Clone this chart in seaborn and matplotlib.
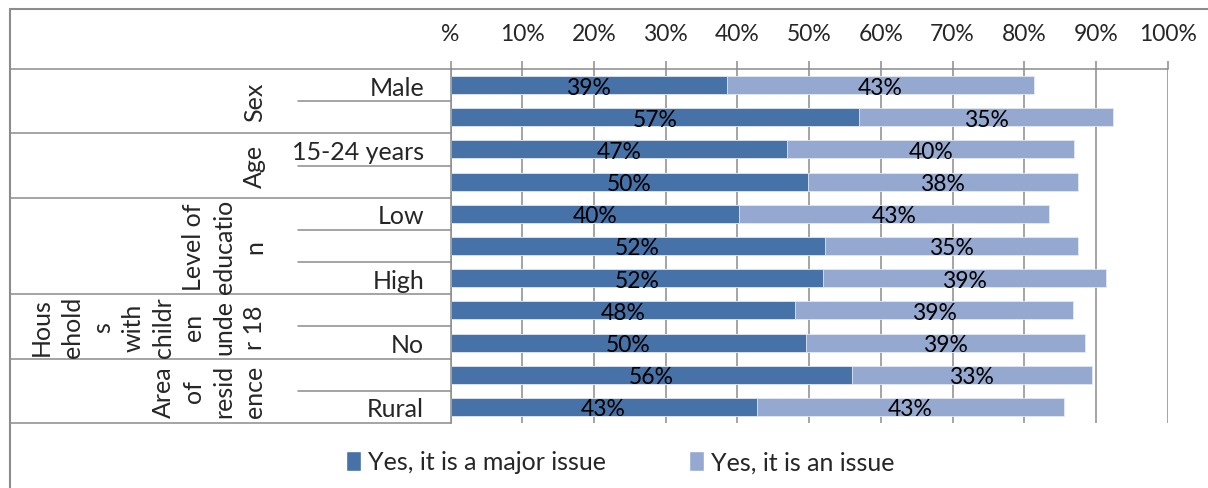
import matplotlib
matplotlib.use("Agg")
import matplotlib.pyplot as plt
import matplotlib.transforms as mtransforms
from matplotlib.lines import Line2D
from matplotlib.patches import Patch
import seaborn as sns
import pandas as pd

# ---- data -------------------------------------------------------------
row_labels = ["Male", "", "15-24 years", "", "Low", "", "High", "", "No", "", "Rural"]
major_issue = [38.6, 57.0, 46.9, 49.8, 40.2, 52.2, 52.0, 48.1, 49.6, 56.0, 42.7]
an_issue = [42.7, 35.4, 40.1, 37.7, 43.2, 35.3, 39.4, 38.7, 38.9, 33.4, 42.9]
group_labels = [
    "Sex",
    "Age",
    "Level of\neducatio\nn",
    "Hous\nehold\ns\nwith\nchildr\nen\nunde\nr 18",
    "Area\nof\nresid\nence",
]
group_sizes = [2, 2, 3, 2, 2]
x_ticks = [0, 10, 20, 30, 40, 50, 60, 70, 80, 90, 100]
x_tick_labels = ["%", "10%", "20%", "30%", "40%", "50%", "60%", "70%", "80%", "90%", "100%"]
series_names = ["Yes, it is a major issue", "Yes, it is an issue"]

# ---- style ------------------------------------------------------------
sns.set_style("white")
plt.rcParams["font.family"] = ["Lato", "DejaVu Sans"]

DARK = "#4672A7"
LIGHT = "#95A9D0"
GRID = "#8C8C8C"
FS_TEXT = 18
FS_NUM = 16.5

W, H = 1208, 489


def fx(px):
    return px / W


def fy(py):
    return 1 - py / H


df = pd.DataFrame({
    "row": list(range(len(row_labels))),
    "major": major_issue,
    "issue": an_issue,
})
df["total"] = df["major"] + df["issue"]

fig = plt.figure(figsize=(W / 100, H / 100), dpi=100)
ax = fig.add_axes([fx(450.5), fy(424), (1167.7 - 450.5) / W, (424 - 70) / H])

# stacked bars: full length in the light colour, major part on top
sns.barplot(data=df, x="total", y="row", orient="h", color=LIGHT, width=0.56,
            saturation=1, edgecolor="#E4E9F3", linewidth=0.6, ax=ax)
sns.barplot(data=df, x="major", y="row", orient="h", color=DARK, width=0.56,
            saturation=1, edgecolor="#E4E9F3", linewidth=0.6, ax=ax)

# value labels centred on each segment
for i, (m, s) in enumerate(zip(major_issue, an_issue)):
    ax.text(m / 2, i + 0.06, f"{m:.0f}%", ha="center", va="center",
            fontsize=FS_NUM, color="black")
    ax.text(m + s / 2, i + 0.06, f"{s:.0f}%", ha="center", va="center",
            fontsize=FS_NUM, color="black")

ax.set_xlim(0, 100)
ax.set_ylim(len(row_labels) - 0.5, -0.5)
ax.set_xlabel("")
ax.set_ylabel("")

ax.xaxis.tick_top()
ax.set_xticks(x_ticks)
ax.set_xticklabels(x_tick_labels)
ax.tick_params(axis="x", direction="out", length=5.8, width=1.1, color=GRID,
               pad=12, labelsize=FS_NUM, top=True, bottom=False)
ax.set_yticks(range(len(row_labels)))
ax.set_yticklabels(row_labels)
ax.tick_params(axis="y", length=0, pad=19, labelsize=FS_TEXT)

ax.grid(axis="x", color=GRID, linewidth=1.1)
ax.grid(axis="y", visible=False)
ax.set_axisbelow(True)
for side in ["right", "bottom"]:
    ax.spines[side].set_visible(False)
for side in ["top", "left"]:
    ax.spines[side].set_visible(True)
    ax.spines[side].set_color(GRID)
    ax.spines[side].set_linewidth(1.1)

# category table on the left
trans = mtransforms.blended_transform_factory(fig.transFigure, ax.transData)
start = 0
for label, size in zip(group_labels, group_sizes):
    top = start - 0.5
    ax.add_line(Line2D([fx(10), fx(450.5)], [top, top], transform=trans,
                       color=GRID, lw=1.1, clip_on=False))
    for k in range(1, size):
        yy = start + k - 0.5
        ax.add_line(Line2D([fx(298), fx(450.5)], [yy, yy], transform=trans,
                           color=GRID, lw=1.1, clip_on=False))
    centre = start + (size - 1) / 2
    ax.text(fx(266), centre, label, transform=trans, rotation=90, ha="right",
            va="center", multialignment="center", fontsize=FS_TEXT, linespacing=1.39)
    start += size
ax.add_line(Line2D([fx(10), fx(450.5)], [start - 0.5, start - 0.5], transform=trans,
                   color=GRID, lw=1.1, clip_on=False))

# chart frame
fig.add_artist(Line2D([fx(10), 1], [fy(10), fy(10)], transform=fig.transFigure,
                      color=GRID, lw=1.5))
fig.add_artist(Line2D([fx(10), fx(10)], [fy(10), 0], transform=fig.transFigure,
                      color=GRID, lw=1.5))

handles = [Patch(facecolor=DARK), Patch(facecolor=LIGHT)]
fig.legend(handles=handles, labels=series_names, loc="center",
           bbox_to_anchor=(fx(620), fy(463)), ncol=2, frameon=False, fontsize=FS_TEXT,
           handlelength=0.6, handleheight=0.85, handletextpad=0.3, columnspacing=3.3)

fig.savefig("out.png", dpi=100)
